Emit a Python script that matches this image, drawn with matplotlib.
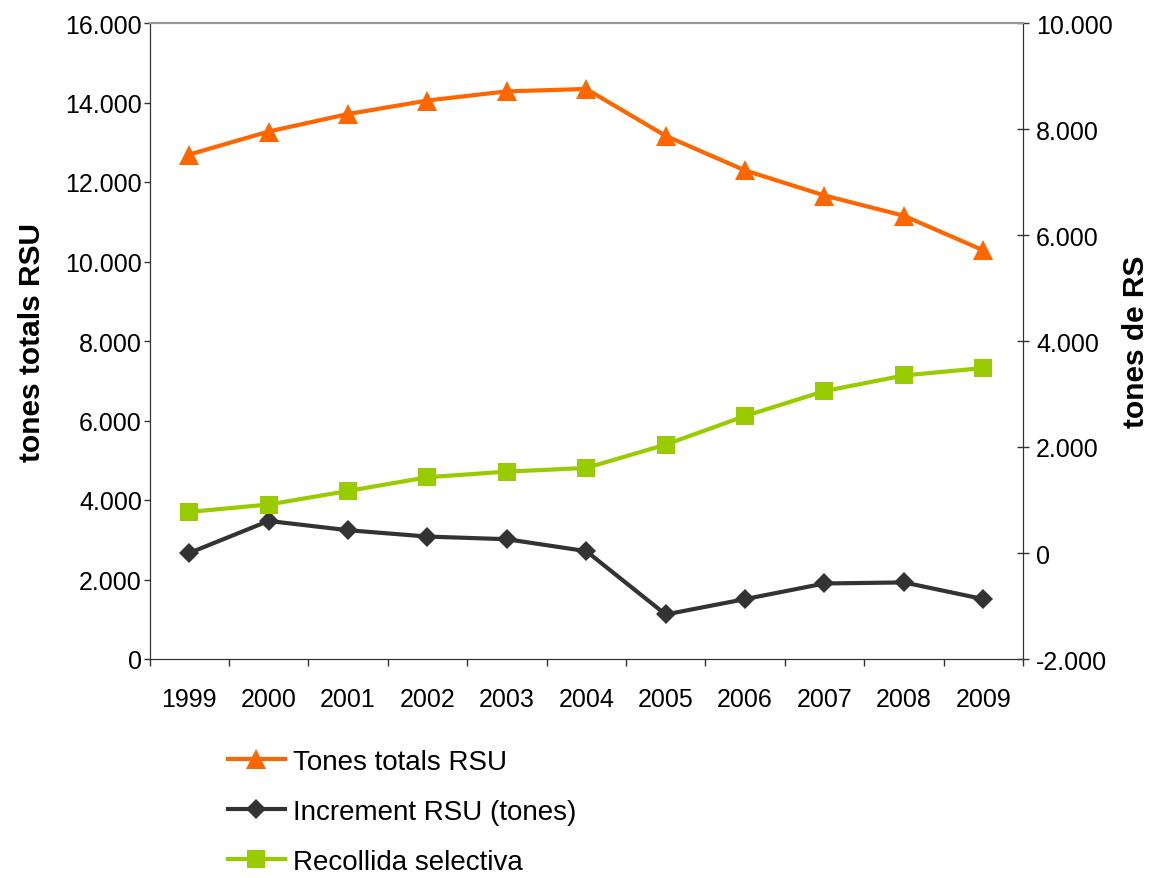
import matplotlib
matplotlib.use("Agg")
import matplotlib.pyplot as plt
from matplotlib.ticker import FuncFormatter, MultipleLocator, FixedLocator

plt.rcParams["font.family"] = ["Liberation Sans", "DejaVu Sans"]

# dades llegides del grafic
anys = ["1999", "2000", "2001", "2002", "2003", "2004", "2005", "2006", "2007", "2008", "2009"]
tones_totals = [12690, 13270, 13710, 14050, 14280, 14340, 13160, 12290, 11660, 11150, 10280]
increment = [0, 605, 430, 310, 260, 35, -1160, -870, -575, -555, -870]
recollida = [775, 915, 1170, 1430, 1535, 1605, 2045, 2585, 3055, 3350, 3490]

ORANGE = "#FF6600"
DARK = "#333333"
GREEN = "#99CC00"


def punt_milers(v, pos):
    return f"{int(round(v)):,}".replace(",", ".")


fig = plt.figure(figsize=(11.51, 8.79), dpi=100)
ax = fig.add_axes([149.5 / 1151, (879 - 660) / 879, 873.5 / 1151, 636 / 879])
ax2 = ax.twinx()

x = list(range(len(anys)))

l1, = ax.plot(x, tones_totals, color=ORANGE, lw=3, marker="^", ms=15, mew=0,
              label="Tones totals RSU", zorder=3)
l2, = ax2.plot(x, increment, color=DARK, lw=3, marker="D", ms=10, mew=0,
               label="Increment RSU (tones)", zorder=3)
l3, = ax2.plot(x, recollida, color=GREEN, lw=3, marker="s", ms=13.5, mew=0,
               label="Recollida selectiva", zorder=3)

ax.set_xlim(-0.5, len(anys) - 0.5)
ax.set_ylim(0, 16000)
ax2.set_ylim(-2000, 10000)
ax.yaxis.set_major_locator(MultipleLocator(2000))
ax2.yaxis.set_major_locator(MultipleLocator(2000))
ax.yaxis.set_major_formatter(FuncFormatter(punt_milers))
ax2.yaxis.set_major_formatter(FuncFormatter(punt_milers))

# anys al centre, marques de tick entre categories
ax.set_xticks(x)
ax.set_xticklabels(anys)
ax.xaxis.set_minor_locator(FixedLocator([i - 0.5 for i in range(len(anys) + 1)]))
ax.tick_params(axis="x", which="major", length=0, pad=20, labelsize=18)
ax.tick_params(axis="x", which="minor", length=5, width=1, color=DARK, direction="out")
ax.tick_params(axis="y", length=4, width=1, color=DARK, direction="out", labelsize=18, pad=1.5)
ax2.tick_params(axis="y", length=9, width=1, color=DARK, direction="inout", labelsize=18, pad=5)

for a in (ax, ax2):
    a.spines["top"].set_color("#999999")
    a.spines["top"].set_linewidth(1.5)
    a.spines["left"].set_color(DARK)
    a.spines["right"].set_color(DARK)
    a.spines["bottom"].set_color(DARK)

ax.set_ylabel("tones totals RSU", fontsize=21.5, fontweight="bold")
ax.yaxis.set_label_coords(-0.118, 0.5)
ax2.set_ylabel("tones de RS", fontsize=21.5, fontweight="bold")
ax2.yaxis.set_label_coords(1.113, 0.5)

fig.legend(handles=[l1, l2, l3], loc="upper left", bbox_to_anchor=(228 / 1151, 1 - 750 / 879),
           frameon=False, fontsize=20, handlelength=2.05, handletextpad=0.3,
           labelspacing=0.86, borderpad=0, borderaxespad=0)

fig.savefig("out.png", dpi=100)
